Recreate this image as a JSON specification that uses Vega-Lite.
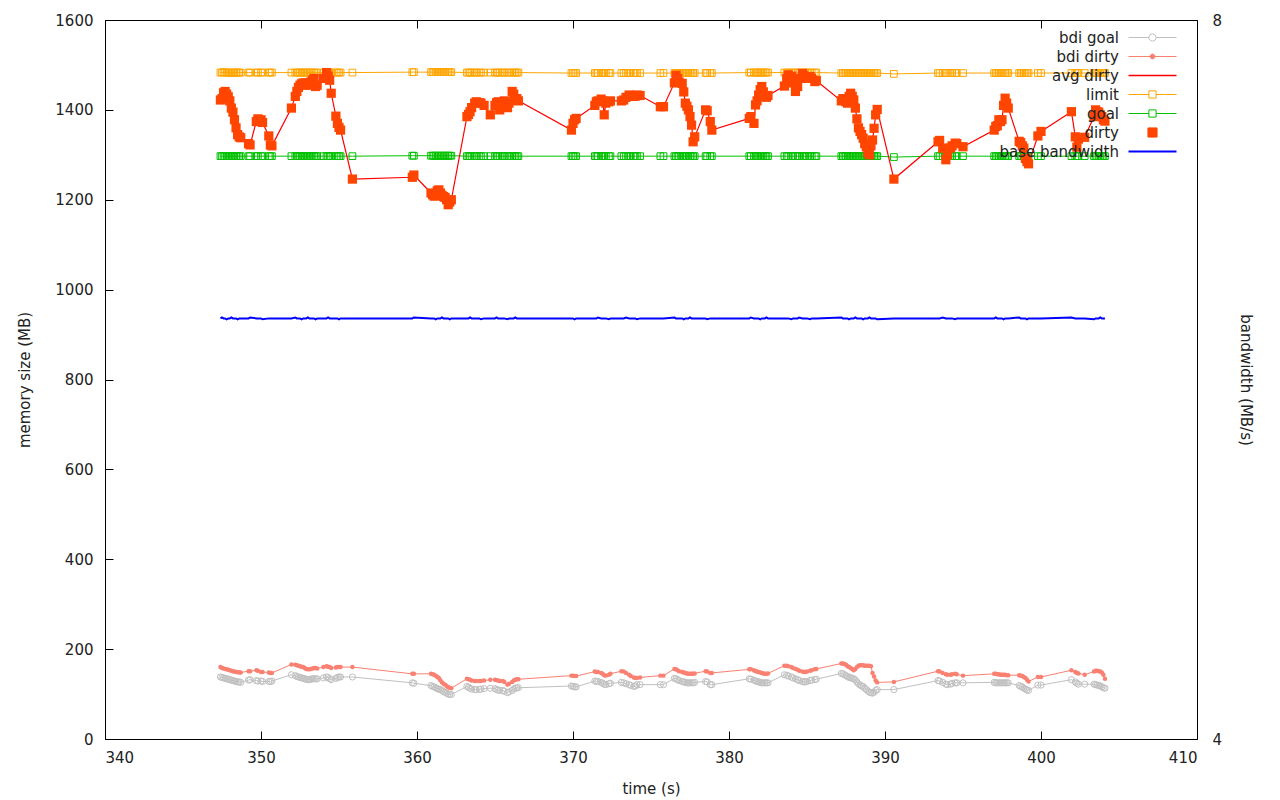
{
"$schema": "https://vega.github.io/schema/vega-lite/v6.json",
"autosize": "none",
"width": 1092,
"height": 719,
"padding": {"left": 105, "top": 20, "right": 83, "bottom": 61},
"background": "white",
"config": {
  "view": {"stroke": "black", "strokeWidth": 1},
  "font": "DejaVu Sans",
  "axis": {"labelFont": "DejaVu Sans", "labelFontSize": 15, "labelColor": "#222", "titleFont": "DejaVu Sans", "titleFontSize": 15, "titleFontWeight": "normal", "titleColor": "#222", "grid": false, "domain": false, "ticks": true, "tickColor": "#000", "tickSize": -8, "tickWidth": 1, "tickOpacity": 1, "zindex": 1, "format": "d"},
  "legend": {"orient": "none", "legendX": 1040, "legendY": 10, "title": null, "labelFont": "DejaVu Sans", "labelFontSize": 15, "labelColor": "#222", "symbolSize": 2304, "symbolType": "stroke", "symbolStrokeWidth": 1, "labelAlign": "right", "labelOffset": -41, "rowPadding": 3, "padding": 0}
},
"datasets": {"d": [
{"t":347.4,"bdi_goal":138,"bdi_dirty":160,"limit":1483,"goal":1297,"dirty":1422,"bw":6.34},
{"t":347.5,"bdi_goal":137,"bdi_dirty":158,"limit":1483,"goal":1297,"dirty":1425,"bw":6.345},
{"t":347.6,"bdi_goal":136,"bdi_dirty":157,"limit":1484,"goal":1297,"dirty":1438,"bw":6.34},
{"t":347.7,"bdi_goal":135,"bdi_dirty":156,"limit":1483,"goal":1297,"dirty":1441,"bw":6.34},
{"t":347.8,"bdi_goal":134,"bdi_dirty":155,"limit":1483,"goal":1297,"dirty":1435,"bw":6.335},
{"t":347.9,"bdi_goal":133,"bdi_dirty":154,"limit":1483,"goal":1297,"dirty":1429,"bw":6.34},
{"t":348.0,"bdi_goal":132,"bdi_dirty":153,"limit":1483,"goal":1297,"dirty":1420,"bw":6.34},
{"t":348.1,"bdi_goal":131,"bdi_dirty":152,"limit":1482,"goal":1297,"dirty":1404,"bw":6.345},
{"t":348.2,"bdi_goal":130,"bdi_dirty":151,"limit":1483,"goal":1297,"dirty":1395,"bw":6.34},
{"t":348.3,"bdi_goal":129,"bdi_dirty":150,"limit":1483,"goal":1297,"dirty":1378,"bw":6.34},
{"t":348.4,"bdi_goal":128,"bdi_dirty":149,"limit":1483,"goal":1297,"dirty":1360,"bw":6.34},
{"t":348.5,"bdi_goal":127,"bdi_dirty":149,"limit":1483,"goal":1297,"dirty":1345,"bw":6.335},
{"t":348.6,"bdi_goal":127,"bdi_dirty":148,"limit":1483,"goal":1297,"dirty":1340,"bw":6.34},
{"t":348.7,"bdi_goal":126,"bdi_dirty":148,"limit":1483,"goal":1297,"dirty":1338,"bw":6.34},
{"t":349.2,"bdi_goal":131,"bdi_dirty":151,"limit":1483,"goal":1297,"dirty":1325,"bw":6.34},
{"t":349.3,"bdi_goal":132,"bdi_dirty":151,"limit":1483,"goal":1297,"dirty":1322,"bw":6.345},
{"t":349.7,"bdi_goal":130,"bdi_dirty":153,"limit":1483,"goal":1297,"dirty":1374,"bw":6.34},
{"t":349.8,"bdi_goal":129,"bdi_dirty":152,"limit":1483,"goal":1297,"dirty":1380,"bw":6.34},
{"t":350.0,"bdi_goal":129,"bdi_dirty":149,"limit":1483,"goal":1297,"dirty":1378,"bw":6.34},
{"t":350.1,"bdi_goal":128,"bdi_dirty":149,"limit":1483,"goal":1297,"dirty":1372,"bw":6.335},
{"t":350.5,"bdi_goal":128,"bdi_dirty":148,"limit":1483,"goal":1297,"dirty":1342,"bw":6.34},
{"t":350.6,"bdi_goal":128,"bdi_dirty":147,"limit":1483,"goal":1297,"dirty":1322,"bw":6.34},
{"t":350.7,"bdi_goal":129,"bdi_dirty":147,"limit":1483,"goal":1297,"dirty":1320,"bw":6.34},
{"t":351.95,"bdi_goal":143,"bdi_dirty":166,"limit":1483,"goal":1297,"dirty":1404,"bw":6.34},
{"t":352.2,"bdi_goal":141,"bdi_dirty":165,"limit":1483,"goal":1297,"dirty":1430,"bw":6.345},
{"t":352.3,"bdi_goal":139,"bdi_dirty":164,"limit":1483,"goal":1297,"dirty":1441,"bw":6.34},
{"t":352.4,"bdi_goal":138,"bdi_dirty":163,"limit":1483,"goal":1297,"dirty":1450,"bw":6.34},
{"t":352.5,"bdi_goal":137,"bdi_dirty":162,"limit":1483,"goal":1297,"dirty":1455,"bw":6.34},
{"t":352.6,"bdi_goal":136,"bdi_dirty":161,"limit":1483,"goal":1297,"dirty":1458,"bw":6.335},
{"t":352.7,"bdi_goal":135,"bdi_dirty":160,"limit":1483,"goal":1297,"dirty":1460,"bw":6.34},
{"t":352.8,"bdi_goal":134,"bdi_dirty":158,"limit":1483,"goal":1297,"dirty":1455,"bw":6.34},
{"t":352.9,"bdi_goal":133,"bdi_dirty":156,"limit":1483,"goal":1297,"dirty":1460,"bw":6.34},
{"t":353.0,"bdi_goal":132,"bdi_dirty":155,"limit":1483,"goal":1297,"dirty":1458,"bw":6.345},
{"t":353.1,"bdi_goal":132,"bdi_dirty":155,"limit":1483,"goal":1297,"dirty":1455,"bw":6.34},
{"t":353.2,"bdi_goal":133,"bdi_dirty":156,"limit":1483,"goal":1297,"dirty":1462,"bw":6.34},
{"t":353.3,"bdi_goal":134,"bdi_dirty":157,"limit":1483,"goal":1297,"dirty":1466,"bw":6.34},
{"t":353.4,"bdi_goal":134,"bdi_dirty":158,"limit":1483,"goal":1297,"dirty":1470,"bw":6.34},
{"t":353.5,"bdi_goal":134,"bdi_dirty":158,"limit":1483,"goal":1297,"dirty":1452,"bw":6.335},
{"t":353.6,"bdi_goal":134,"bdi_dirty":157,"limit":1483,"goal":1297,"dirty":1455,"bw":6.34},
{"t":354.0,"bdi_goal":136,"bdi_dirty":160,"limit":1483,"goal":1297,"dirty":1470,"bw":6.34},
{"t":354.2,"bdi_goal":138,"bdi_dirty":162,"limit":1483,"goal":1297,"dirty":1483,"bw":6.34},
{"t":354.3,"bdi_goal":137,"bdi_dirty":161,"limit":1483,"goal":1297,"dirty":1475,"bw":6.345},
{"t":354.4,"bdi_goal":134,"bdi_dirty":160,"limit":1483,"goal":1297,"dirty":1466,"bw":6.34},
{"t":354.5,"bdi_goal":132,"bdi_dirty":158,"limit":1483,"goal":1297,"dirty":1437,"bw":6.34},
{"t":354.8,"bdi_goal":135,"bdi_dirty":159,"limit":1483,"goal":1297,"dirty":1386,"bw":6.34},
{"t":354.9,"bdi_goal":137,"bdi_dirty":160,"limit":1483,"goal":1297,"dirty":1370,"bw":6.34},
{"t":355.0,"bdi_goal":138,"bdi_dirty":160,"limit":1483,"goal":1297,"dirty":1361,"bw":6.335},
{"t":355.1,"bdi_goal":138,"bdi_dirty":160,"limit":1483,"goal":1297,"dirty":1355,"bw":6.34},
{"t":355.86,"bdi_goal":138,"bdi_dirty":160,"limit":1483,"goal":1297,"dirty":1246,"bw":6.34},
{"t":359.7,"bdi_goal":125,"bdi_dirty":145,"limit":1484,"goal":1298,"dirty":1250,"bw":6.34},
{"t":359.8,"bdi_goal":124,"bdi_dirty":145,"limit":1484,"goal":1298,"dirty":1255,"bw":6.345},
{"t":360.9,"bdi_goal":119,"bdi_dirty":145,"limit":1484,"goal":1298,"dirty":1215,"bw":6.34},
{"t":361.0,"bdi_goal":117,"bdi_dirty":144,"limit":1484,"goal":1298,"dirty":1211,"bw":6.34},
{"t":361.1,"bdi_goal":116,"bdi_dirty":143,"limit":1484,"goal":1298,"dirty":1208,"bw":6.34},
{"t":361.2,"bdi_goal":114,"bdi_dirty":141,"limit":1484,"goal":1298,"dirty":1210,"bw":6.335},
{"t":361.3,"bdi_goal":112,"bdi_dirty":138,"limit":1484,"goal":1298,"dirty":1220,"bw":6.34},
{"t":361.4,"bdi_goal":111,"bdi_dirty":136,"limit":1484,"goal":1298,"dirty":1222,"bw":6.34},
{"t":361.5,"bdi_goal":110,"bdi_dirty":131,"limit":1484,"goal":1298,"dirty":1215,"bw":6.34},
{"t":361.6,"bdi_goal":108,"bdi_dirty":126,"limit":1484,"goal":1298,"dirty":1210,"bw":6.345},
{"t":361.7,"bdi_goal":106,"bdi_dirty":123,"limit":1484,"goal":1298,"dirty":1207,"bw":6.34},
{"t":361.8,"bdi_goal":104,"bdi_dirty":121,"limit":1484,"goal":1298,"dirty":1205,"bw":6.34},
{"t":361.9,"bdi_goal":102,"bdi_dirty":118,"limit":1484,"goal":1298,"dirty":1200,"bw":6.34},
{"t":362.0,"bdi_goal":100,"bdi_dirty":115,"limit":1484,"goal":1298,"dirty":1189,"bw":6.34},
{"t":362.1,"bdi_goal":99,"bdi_dirty":114,"limit":1484,"goal":1298,"dirty":1195,"bw":6.335},
{"t":362.2,"bdi_goal":99,"bdi_dirty":113,"limit":1484,"goal":1298,"dirty":1200,"bw":6.34},
{"t":363.2,"bdi_goal":117,"bdi_dirty":134,"limit":1483,"goal":1297,"dirty":1385,"bw":6.34},
{"t":363.3,"bdi_goal":115,"bdi_dirty":133,"limit":1483,"goal":1297,"dirty":1390,"bw":6.34},
{"t":363.4,"bdi_goal":113,"bdi_dirty":132,"limit":1483,"goal":1297,"dirty":1396,"bw":6.345},
{"t":363.5,"bdi_goal":111,"bdi_dirty":130,"limit":1483,"goal":1297,"dirty":1405,"bw":6.34},
{"t":363.7,"bdi_goal":110,"bdi_dirty":129,"limit":1483,"goal":1297,"dirty":1415,"bw":6.34},
{"t":363.8,"bdi_goal":110,"bdi_dirty":129,"limit":1483,"goal":1297,"dirty":1418,"bw":6.34},
{"t":364.0,"bdi_goal":110,"bdi_dirty":129,"limit":1483,"goal":1297,"dirty":1416,"bw":6.34},
{"t":364.1,"bdi_goal":111,"bdi_dirty":129,"limit":1483,"goal":1297,"dirty":1415,"bw":6.335},
{"t":364.3,"bdi_goal":112,"bdi_dirty":130,"limit":1483,"goal":1297,"dirty":1410,"bw":6.34},
{"t":364.7,"bdi_goal":113,"bdi_dirty":132,"limit":1483,"goal":1297,"dirty":1389,"bw":6.34},
{"t":365.0,"bdi_goal":112,"bdi_dirty":132,"limit":1483,"goal":1297,"dirty":1410,"bw":6.34},
{"t":365.1,"bdi_goal":110,"bdi_dirty":131,"limit":1483,"goal":1297,"dirty":1416,"bw":6.345},
{"t":365.2,"bdi_goal":109,"bdi_dirty":130,"limit":1483,"goal":1297,"dirty":1418,"bw":6.34},
{"t":365.3,"bdi_goal":108,"bdi_dirty":129,"limit":1483,"goal":1297,"dirty":1400,"bw":6.34},
{"t":365.5,"bdi_goal":108,"bdi_dirty":129,"limit":1483,"goal":1297,"dirty":1415,"bw":6.34},
{"t":365.6,"bdi_goal":106,"bdi_dirty":127,"limit":1483,"goal":1297,"dirty":1420,"bw":6.34},
{"t":365.8,"bdi_goal":103,"bdi_dirty":121,"limit":1483,"goal":1297,"dirty":1405,"bw":6.335},
{"t":365.9,"bdi_goal":105,"bdi_dirty":123,"limit":1483,"goal":1297,"dirty":1415,"bw":6.34},
{"t":366.1,"bdi_goal":108,"bdi_dirty":127,"limit":1483,"goal":1297,"dirty":1441,"bw":6.34},
{"t":366.2,"bdi_goal":111,"bdi_dirty":130,"limit":1483,"goal":1297,"dirty":1435,"bw":6.34},
{"t":366.3,"bdi_goal":113,"bdi_dirty":132,"limit":1483,"goal":1297,"dirty":1422,"bw":6.345},
{"t":366.4,"bdi_goal":114,"bdi_dirty":133,"limit":1483,"goal":1297,"dirty":1425,"bw":6.34},
{"t":366.5,"bdi_goal":114,"bdi_dirty":133,"limit":1483,"goal":1297,"dirty":1420,"bw":6.34},
{"t":369.9,"bdi_goal":118,"bdi_dirty":141,"limit":1482,"goal":1297,"dirty":1355,"bw":6.34},
{"t":370.0,"bdi_goal":117,"bdi_dirty":141,"limit":1482,"goal":1297,"dirty":1370,"bw":6.34},
{"t":370.1,"bdi_goal":116,"bdi_dirty":140,"limit":1482,"goal":1297,"dirty":1378,"bw":6.335},
{"t":370.2,"bdi_goal":116,"bdi_dirty":140,"limit":1482,"goal":1297,"dirty":1381,"bw":6.34},
{"t":371.4,"bdi_goal":129,"bdi_dirty":150,"limit":1482,"goal":1297,"dirty":1410,"bw":6.34},
{"t":371.5,"bdi_goal":128,"bdi_dirty":149,"limit":1482,"goal":1297,"dirty":1418,"bw":6.34},
{"t":371.6,"bdi_goal":128,"bdi_dirty":149,"limit":1482,"goal":1297,"dirty":1420,"bw":6.345},
{"t":371.8,"bdi_goal":126,"bdi_dirty":147,"limit":1482,"goal":1297,"dirty":1424,"bw":6.34},
{"t":371.9,"bdi_goal":124,"bdi_dirty":145,"limit":1482,"goal":1297,"dirty":1420,"bw":6.34},
{"t":372.0,"bdi_goal":122,"bdi_dirty":142,"limit":1482,"goal":1297,"dirty":1389,"bw":6.34},
{"t":372.1,"bdi_goal":121,"bdi_dirty":141,"limit":1482,"goal":1297,"dirty":1415,"bw":6.34},
{"t":372.3,"bdi_goal":123,"bdi_dirty":143,"limit":1482,"goal":1297,"dirty":1418,"bw":6.335},
{"t":372.4,"bdi_goal":124,"bdi_dirty":145,"limit":1482,"goal":1297,"dirty":1420,"bw":6.34},
{"t":373.1,"bdi_goal":126,"bdi_dirty":151,"limit":1482,"goal":1297,"dirty":1420,"bw":6.34},
{"t":373.25,"bdi_goal":125,"bdi_dirty":150,"limit":1482,"goal":1297,"dirty":1422,"bw":6.34},
{"t":373.4,"bdi_goal":123,"bdi_dirty":147,"limit":1482,"goal":1297,"dirty":1428,"bw":6.345},
{"t":373.6,"bdi_goal":121,"bdi_dirty":143,"limit":1482,"goal":1297,"dirty":1433,"bw":6.34},
{"t":373.7,"bdi_goal":119,"bdi_dirty":140,"limit":1482,"goal":1297,"dirty":1432,"bw":6.34},
{"t":373.9,"bdi_goal":117,"bdi_dirty":137,"limit":1482,"goal":1297,"dirty":1430,"bw":6.34},
{"t":374.0,"bdi_goal":118,"bdi_dirty":136,"limit":1482,"goal":1297,"dirty":1431,"bw":6.34},
{"t":374.1,"bdi_goal":121,"bdi_dirty":136,"limit":1482,"goal":1297,"dirty":1433,"bw":6.335},
{"t":374.3,"bdi_goal":121,"bdi_dirty":137,"limit":1482,"goal":1297,"dirty":1432,"bw":6.34},
{"t":375.6,"bdi_goal":121,"bdi_dirty":141,"limit":1482,"goal":1297,"dirty":1407,"bw":6.34},
{"t":375.8,"bdi_goal":121,"bdi_dirty":141,"limit":1482,"goal":1297,"dirty":1407,"bw":6.34},
{"t":376.5,"bdi_goal":135,"bdi_dirty":156,"limit":1482,"goal":1297,"dirty":1460,"bw":6.345},
{"t":376.6,"bdi_goal":134,"bdi_dirty":155,"limit":1482,"goal":1297,"dirty":1477,"bw":6.34},
{"t":376.7,"bdi_goal":132,"bdi_dirty":153,"limit":1482,"goal":1297,"dirty":1470,"bw":6.34},
{"t":376.8,"bdi_goal":130,"bdi_dirty":151,"limit":1482,"goal":1297,"dirty":1462,"bw":6.34},
{"t":377.0,"bdi_goal":128,"bdi_dirty":149,"limit":1482,"goal":1297,"dirty":1459,"bw":6.34},
{"t":377.1,"bdi_goal":127,"bdi_dirty":148,"limit":1482,"goal":1297,"dirty":1440,"bw":6.335},
{"t":377.2,"bdi_goal":126,"bdi_dirty":147,"limit":1482,"goal":1297,"dirty":1415,"bw":6.34},
{"t":377.3,"bdi_goal":125,"bdi_dirty":146,"limit":1482,"goal":1297,"dirty":1408,"bw":6.34},
{"t":377.4,"bdi_goal":125,"bdi_dirty":145,"limit":1482,"goal":1297,"dirty":1400,"bw":6.34},
{"t":377.5,"bdi_goal":125,"bdi_dirty":145,"limit":1482,"goal":1297,"dirty":1385,"bw":6.345},
{"t":377.6,"bdi_goal":125,"bdi_dirty":145,"limit":1482,"goal":1297,"dirty":1366,"bw":6.34},
{"t":377.7,"bdi_goal":125,"bdi_dirty":145,"limit":1482,"goal":1297,"dirty":1329,"bw":6.34},
{"t":377.8,"bdi_goal":126,"bdi_dirty":146,"limit":1482,"goal":1297,"dirty":1340,"bw":6.34},
{"t":378.5,"bdi_goal":128,"bdi_dirty":151,"limit":1482,"goal":1297,"dirty":1400,"bw":6.34},
{"t":378.6,"bdi_goal":127,"bdi_dirty":150,"limit":1482,"goal":1297,"dirty":1398,"bw":6.335},
{"t":378.8,"bdi_goal":121,"bdi_dirty":147,"limit":1482,"goal":1297,"dirty":1374,"bw":6.34},
{"t":378.9,"bdi_goal":121,"bdi_dirty":147,"limit":1482,"goal":1297,"dirty":1355,"bw":6.34},
{"t":381.3,"bdi_goal":134,"bdi_dirty":155,"limit":1483,"goal":1297,"dirty":1381,"bw":6.34},
{"t":381.4,"bdi_goal":133,"bdi_dirty":155,"limit":1483,"goal":1297,"dirty":1385,"bw":6.345},
{"t":381.6,"bdi_goal":131,"bdi_dirty":153,"limit":1483,"goal":1297,"dirty":1370,"bw":6.34},
{"t":381.7,"bdi_goal":129,"bdi_dirty":151,"limit":1483,"goal":1297,"dirty":1411,"bw":6.34},
{"t":381.8,"bdi_goal":128,"bdi_dirty":150,"limit":1483,"goal":1297,"dirty":1420,"bw":6.34},
{"t":381.9,"bdi_goal":127,"bdi_dirty":149,"limit":1483,"goal":1297,"dirty":1433,"bw":6.34},
{"t":382.0,"bdi_goal":126,"bdi_dirty":148,"limit":1483,"goal":1297,"dirty":1445,"bw":6.335},
{"t":382.1,"bdi_goal":125,"bdi_dirty":147,"limit":1483,"goal":1297,"dirty":1452,"bw":6.34},
{"t":382.2,"bdi_goal":125,"bdi_dirty":146,"limit":1483,"goal":1297,"dirty":1440,"bw":6.34},
{"t":382.3,"bdi_goal":125,"bdi_dirty":145,"limit":1483,"goal":1297,"dirty":1430,"bw":6.34},
{"t":382.4,"bdi_goal":125,"bdi_dirty":145,"limit":1483,"goal":1297,"dirty":1428,"bw":6.345},
{"t":382.5,"bdi_goal":125,"bdi_dirty":146,"limit":1483,"goal":1297,"dirty":1432,"bw":6.34},
{"t":383.55,"bdi_goal":143,"bdi_dirty":163,"limit":1483,"goal":1297,"dirty":1453,"bw":6.34},
{"t":383.7,"bdi_goal":142,"bdi_dirty":163,"limit":1483,"goal":1297,"dirty":1470,"bw":6.34},
{"t":383.8,"bdi_goal":140,"bdi_dirty":162,"limit":1483,"goal":1297,"dirty":1478,"bw":6.34},
{"t":384.0,"bdi_goal":138,"bdi_dirty":160,"limit":1483,"goal":1297,"dirty":1475,"bw":6.335},
{"t":384.1,"bdi_goal":136,"bdi_dirty":158,"limit":1483,"goal":1297,"dirty":1460,"bw":6.34},
{"t":384.26,"bdi_goal":134,"bdi_dirty":156,"limit":1483,"goal":1297,"dirty":1441,"bw":6.34},
{"t":384.4,"bdi_goal":132,"bdi_dirty":154,"limit":1483,"goal":1297,"dirty":1452,"bw":6.34},
{"t":384.5,"bdi_goal":130,"bdi_dirty":152,"limit":1483,"goal":1297,"dirty":1470,"bw":6.345},
{"t":384.7,"bdi_goal":128,"bdi_dirty":150,"limit":1483,"goal":1297,"dirty":1481,"bw":6.34},
{"t":384.8,"bdi_goal":127,"bdi_dirty":149,"limit":1483,"goal":1297,"dirty":1476,"bw":6.34},
{"t":384.9,"bdi_goal":127,"bdi_dirty":149,"limit":1483,"goal":1297,"dirty":1470,"bw":6.34},
{"t":385.0,"bdi_goal":128,"bdi_dirty":150,"limit":1483,"goal":1297,"dirty":1472,"bw":6.34},
{"t":385.2,"bdi_goal":130,"bdi_dirty":152,"limit":1483,"goal":1297,"dirty":1474,"bw":6.335},
{"t":385.3,"bdi_goal":131,"bdi_dirty":153,"limit":1483,"goal":1297,"dirty":1470,"bw":6.34},
{"t":385.5,"bdi_goal":132,"bdi_dirty":155,"limit":1483,"goal":1297,"dirty":1463,"bw":6.34},
{"t":385.6,"bdi_goal":133,"bdi_dirty":156,"limit":1483,"goal":1297,"dirty":1465,"bw":6.34},
{"t":387.2,"bdi_goal":146,"bdi_dirty":168,"limit":1482,"goal":1297,"dirty":1420,"bw":6.345},
{"t":387.3,"bdi_goal":145,"bdi_dirty":168,"limit":1482,"goal":1297,"dirty":1425,"bw":6.34},
{"t":387.4,"bdi_goal":143,"bdi_dirty":167,"limit":1482,"goal":1297,"dirty":1422,"bw":6.34},
{"t":387.5,"bdi_goal":141,"bdi_dirty":165,"limit":1482,"goal":1297,"dirty":1418,"bw":6.34},
{"t":387.6,"bdi_goal":139,"bdi_dirty":162,"limit":1482,"goal":1297,"dirty":1415,"bw":6.34},
{"t":387.7,"bdi_goal":137,"bdi_dirty":160,"limit":1482,"goal":1297,"dirty":1430,"bw":6.335},
{"t":387.8,"bdi_goal":136,"bdi_dirty":158,"limit":1482,"goal":1297,"dirty":1437,"bw":6.34},
{"t":387.9,"bdi_goal":135,"bdi_dirty":155,"limit":1482,"goal":1297,"dirty":1430,"bw":6.34},
{"t":388.0,"bdi_goal":134,"bdi_dirty":153,"limit":1482,"goal":1297,"dirty":1422,"bw":6.34},
{"t":388.1,"bdi_goal":131,"bdi_dirty":156,"limit":1482,"goal":1297,"dirty":1404,"bw":6.345},
{"t":388.2,"bdi_goal":127,"bdi_dirty":160,"limit":1482,"goal":1297,"dirty":1380,"bw":6.34},
{"t":388.3,"bdi_goal":123,"bdi_dirty":163,"limit":1482,"goal":1297,"dirty":1360,"bw":6.34},
{"t":388.4,"bdi_goal":120,"bdi_dirty":164,"limit":1482,"goal":1297,"dirty":1352,"bw":6.34},
{"t":388.5,"bdi_goal":118,"bdi_dirty":164,"limit":1482,"goal":1297,"dirty":1345,"bw":6.34},
{"t":388.6,"bdi_goal":117,"bdi_dirty":164,"limit":1482,"goal":1297,"dirty":1337,"bw":6.335},
{"t":388.7,"bdi_goal":113,"bdi_dirty":163,"limit":1482,"goal":1297,"dirty":1325,"bw":6.34},
{"t":388.8,"bdi_goal":110,"bdi_dirty":163,"limit":1482,"goal":1297,"dirty":1318,"bw":6.34},
{"t":388.9,"bdi_goal":107,"bdi_dirty":163,"limit":1482,"goal":1297,"dirty":1305,"bw":6.34},
{"t":389.0,"bdi_goal":104,"bdi_dirty":163,"limit":1482,"goal":1297,"dirty":1300,"bw":6.345},
{"t":389.1,"bdi_goal":103,"bdi_dirty":162,"limit":1482,"goal":1297,"dirty":1320,"bw":6.34},
{"t":389.2,"bdi_goal":102,"bdi_dirty":147,"limit":1482,"goal":1297,"dirty":1333,"bw":6.34},
{"t":389.3,"bdi_goal":104,"bdi_dirty":139,"limit":1482,"goal":1297,"dirty":1359,"bw":6.34},
{"t":389.4,"bdi_goal":108,"bdi_dirty":130,"limit":1482,"goal":1297,"dirty":1389,"bw":6.34},
{"t":389.5,"bdi_goal":110,"bdi_dirty":126,"limit":1482,"goal":1297,"dirty":1401,"bw":6.335},
{"t":390.57,"bdi_goal":110,"bdi_dirty":127,"limit":1480,"goal":1295,"dirty":1246,"bw":6.34},
{"t":393.4,"bdi_goal":130,"bdi_dirty":151,"limit":1482,"goal":1297,"dirty":1329,"bw":6.34},
{"t":393.5,"bdi_goal":129,"bdi_dirty":150,"limit":1482,"goal":1297,"dirty":1332,"bw":6.34},
{"t":393.7,"bdi_goal":126,"bdi_dirty":147,"limit":1482,"goal":1297,"dirty":1315,"bw":6.345},
{"t":393.9,"bdi_goal":122,"bdi_dirty":144,"limit":1482,"goal":1297,"dirty":1289,"bw":6.34},
{"t":394.0,"bdi_goal":121,"bdi_dirty":143,"limit":1482,"goal":1297,"dirty":1300,"bw":6.34},
{"t":394.2,"bdi_goal":122,"bdi_dirty":143,"limit":1482,"goal":1297,"dirty":1315,"bw":6.34},
{"t":394.3,"bdi_goal":124,"bdi_dirty":144,"limit":1482,"goal":1297,"dirty":1320,"bw":6.34},
{"t":394.5,"bdi_goal":125,"bdi_dirty":145,"limit":1482,"goal":1297,"dirty":1326,"bw":6.335},
{"t":394.6,"bdi_goal":125,"bdi_dirty":144,"limit":1482,"goal":1297,"dirty":1325,"bw":6.34},
{"t":395.0,"bdi_goal":125,"bdi_dirty":141,"limit":1482,"goal":1297,"dirty":1318,"bw":6.34},
{"t":397.0,"bdi_goal":126,"bdi_dirty":145,"limit":1482,"goal":1297,"dirty":1355,"bw":6.34},
{"t":397.1,"bdi_goal":125,"bdi_dirty":145,"limit":1482,"goal":1297,"dirty":1363,"bw":6.345},
{"t":397.2,"bdi_goal":125,"bdi_dirty":144,"limit":1482,"goal":1297,"dirty":1365,"bw":6.34},
{"t":397.3,"bdi_goal":125,"bdi_dirty":144,"limit":1482,"goal":1297,"dirty":1378,"bw":6.34},
{"t":397.4,"bdi_goal":125,"bdi_dirty":143,"limit":1482,"goal":1297,"dirty":1374,"bw":6.34},
{"t":397.5,"bdi_goal":125,"bdi_dirty":143,"limit":1482,"goal":1297,"dirty":1378,"bw":6.34},
{"t":397.6,"bdi_goal":125,"bdi_dirty":143,"limit":1482,"goal":1297,"dirty":1410,"bw":6.335},
{"t":397.7,"bdi_goal":125,"bdi_dirty":143,"limit":1482,"goal":1297,"dirty":1426,"bw":6.34},
{"t":397.8,"bdi_goal":125,"bdi_dirty":142,"limit":1482,"goal":1297,"dirty":1415,"bw":6.34},
{"t":397.9,"bdi_goal":125,"bdi_dirty":142,"limit":1482,"goal":1297,"dirty":1404,"bw":6.34},
{"t":398.6,"bdi_goal":119,"bdi_dirty":142,"limit":1482,"goal":1297,"dirty":1330,"bw":6.345},
{"t":398.7,"bdi_goal":117,"bdi_dirty":141,"limit":1482,"goal":1297,"dirty":1327,"bw":6.34},
{"t":398.8,"bdi_goal":116,"bdi_dirty":140,"limit":1482,"goal":1297,"dirty":1320,"bw":6.34},
{"t":398.9,"bdi_goal":113,"bdi_dirty":138,"limit":1482,"goal":1297,"dirty":1315,"bw":6.34},
{"t":399.0,"bdi_goal":111,"bdi_dirty":136,"limit":1482,"goal":1297,"dirty":1292,"bw":6.34},
{"t":399.1,"bdi_goal":109,"bdi_dirty":132,"limit":1482,"goal":1297,"dirty":1285,"bw":6.335},
{"t":399.2,"bdi_goal":108,"bdi_dirty":128,"limit":1482,"goal":1297,"dirty":1280,"bw":6.34},
{"t":399.8,"bdi_goal":120,"bdi_dirty":138,"limit":1482,"goal":1297,"dirty":1342,"bw":6.34},
{"t":400.0,"bdi_goal":120,"bdi_dirty":138,"limit":1482,"goal":1297,"dirty":1352,"bw":6.34},
{"t":401.95,"bdi_goal":132,"bdi_dirty":153,"limit":1482,"goal":1297,"dirty":1396,"bw":6.345},
{"t":402.2,"bdi_goal":127,"bdi_dirty":149,"limit":1482,"goal":1297,"dirty":1340,"bw":6.34},
{"t":402.3,"bdi_goal":124,"bdi_dirty":147,"limit":1482,"goal":1297,"dirty":1317,"bw":6.34},
{"t":402.4,"bdi_goal":122,"bdi_dirty":146,"limit":1482,"goal":1297,"dirty":1335,"bw":6.34},
{"t":402.8,"bdi_goal":122,"bdi_dirty":143,"limit":1482,"goal":1297,"dirty":1339,"bw":6.34},
{"t":403.4,"bdi_goal":122,"bdi_dirty":150,"limit":1482,"goal":1297,"dirty":1385,"bw":6.335},
{"t":403.5,"bdi_goal":121,"bdi_dirty":152,"limit":1482,"goal":1297,"dirty":1400,"bw":6.34},
{"t":403.6,"bdi_goal":120,"bdi_dirty":152,"limit":1482,"goal":1297,"dirty":1396,"bw":6.34},
{"t":403.7,"bdi_goal":119,"bdi_dirty":151,"limit":1482,"goal":1297,"dirty":1395,"bw":6.34},
{"t":403.8,"bdi_goal":118,"bdi_dirty":150,"limit":1482,"goal":1297,"dirty":1389,"bw":6.345},
{"t":403.9,"bdi_goal":116,"bdi_dirty":148,"limit":1482,"goal":1297,"dirty":1385,"bw":6.34},
{"t":404.0,"bdi_goal":114,"bdi_dirty":143,"limit":1482,"goal":1297,"dirty":1378,"bw":6.34},
{"t":404.1,"bdi_goal":113,"bdi_dirty":134,"limit":1482,"goal":1297,"dirty":1375,"bw":6.34}
]},
"data": {"name": "d"},
"layer": [
  {
    "layer": [
      {"mark": {"type": "line", "strokeWidth": 1},
       "encoding": {
         "x": {"field": "t", "type": "quantitative", "title": "time (s)", "scale": {"domain": [340, 410], "nice": false, "zero": false}, "axis": {"orient": "bottom", "values": [340,350,360,370,380,390,400,410], "ticks": true, "tickSize": -8, "labelPadding": 19, "titlePadding": 16}},
         "y": {"field": "bdi_goal", "type": "quantitative", "title": "memory size (MB)", "scale": {"domain": [0, 1600], "nice": false, "zero": false}, "axis": {"values": [0,200,400,600,800,1000,1200,1400,1600], "ticks": true, "tickSize": -8, "labelPadding": 20, "titlePadding": 22}},
         "color": {"datum": "bdi goal", "type": "nominal",
           "scale": {"domain": ["bdi goal","bdi dirty","avg dirty","limit","goal","dirty","base bandwidth"], "range": ["#c0c0c0","#fa8072","#ff0000","#ffa500","#00c000","#ff4500","#0000ff"]},
           "legend": {"encode": {"symbols": {"update": {
             "shape": {"signal": "datum.value==='bdi goal' ? 'M-1,0H-0.15M0.15,0H1M0.15,0A0.15,0.15,0,1,1,-0.15,0A0.15,0.15,0,1,1,0.15,0' : datum.value==='bdi dirty' ? 'M-1,0H1M0.1,0A0.1,0.1,0,1,1,-0.1,0A0.1,0.1,0,1,1,0.1,0' : (datum.value==='limit' || datum.value==='goal') ? 'M-1,0H-0.15M0.15,0H1M-0.15,-0.15H0.15V0.15H-0.15Z' : datum.value==='dirty' ? 'M-0.19,-0.19H0.19V0.19H-0.19Z' : datum.value==='avg dirty' ? 'M-1,0H1Z' : 'M-1,0H1'"},
             "fill": {"signal": "datum.value==='dirty' ? '#ff4500' : datum.value==='bdi dirty' ? '#fa8072' : 'transparent'"},
             "fillOpacity": {"signal": "(datum.value==='dirty' || datum.value==='bdi dirty') ? 1 : 0"},
             "stroke": {"scale": "color", "field": "value"},
             "strokeOpacity": {"value": 1},
             "strokeDash": {"value": []},
             "strokeWidth": {"signal": "datum.value==='base bandwidth' ? 2 : datum.value==='avg dirty' ? 1.3 : 1"},
             "opacity": {"value": 1}
           }}}}}
       }},
      {"mark": {"type": "point", "shape": "circle", "filled": false, "size": 38, "strokeWidth": 1, "opacity": 1},
       "encoding": {"x": {"field": "t", "type": "quantitative"}, "y": {"field": "bdi_goal", "type": "quantitative", "title": "memory size (MB)"}, "color": {"datum": "bdi goal", "type": "nominal"}}},
      {"mark": {"type": "line", "strokeWidth": 1},
       "encoding": {"x": {"field": "t", "type": "quantitative"}, "y": {"field": "bdi_dirty", "type": "quantitative", "title": "memory size (MB)"}, "color": {"datum": "bdi dirty", "type": "nominal"}}},
      {"mark": {"type": "circle", "size": 20, "opacity": 1},
       "encoding": {"x": {"field": "t", "type": "quantitative"}, "y": {"field": "bdi_dirty", "type": "quantitative", "title": "memory size (MB)"}, "color": {"datum": "bdi dirty", "type": "nominal"}}},
      {"mark": {"type": "line", "strokeWidth": 1},
       "encoding": {"x": {"field": "t", "type": "quantitative"}, "y": {"field": "limit", "type": "quantitative", "title": "memory size (MB)"}, "color": {"datum": "limit", "type": "nominal"}}},
      {"mark": {"type": "point", "shape": "square", "filled": false, "size": 45, "strokeWidth": 1, "opacity": 1},
       "encoding": {"x": {"field": "t", "type": "quantitative"}, "y": {"field": "limit", "type": "quantitative", "title": "memory size (MB)"}, "color": {"datum": "limit", "type": "nominal"}}},
      {"mark": {"type": "line", "strokeWidth": 1},
       "encoding": {"x": {"field": "t", "type": "quantitative"}, "y": {"field": "goal", "type": "quantitative", "title": "memory size (MB)"}, "color": {"datum": "goal", "type": "nominal"}}},
      {"mark": {"type": "point", "shape": "square", "filled": false, "size": 45, "strokeWidth": 1, "opacity": 1},
       "encoding": {"x": {"field": "t", "type": "quantitative"}, "y": {"field": "goal", "type": "quantitative", "title": "memory size (MB)"}, "color": {"datum": "goal", "type": "nominal"}}},
      {"mark": {"type": "line", "strokeWidth": 1.2},
       "encoding": {"x": {"field": "t", "type": "quantitative"}, "y": {"field": "dirty", "type": "quantitative", "title": "memory size (MB)"}, "color": {"datum": "avg dirty", "type": "nominal"}}},
      {"mark": {"type": "square", "size": 85, "opacity": 1},
       "encoding": {"x": {"field": "t", "type": "quantitative"}, "y": {"field": "dirty", "type": "quantitative", "title": "memory size (MB)"}, "color": {"datum": "dirty", "type": "nominal"}}}
    ]
  },
  {"mark": {"type": "line", "strokeWidth": 2},
   "encoding": {
     "x": {"field": "t", "type": "quantitative", "scale": {"domain": [340, 410], "nice": false, "zero": false}, "axis": {"orient": "top", "values": [340,350,360,370,380,390,400,410], "labels": false, "ticks": true, "tickSize": -8, "title": null}},
     "y": {"field": "bw", "type": "quantitative", "title": "bandwidth (MB/s)", "scale": {"domain": [4, 8], "nice": false, "zero": false}, "axis": {"orient": "right", "values": [4, 8], "ticks": true, "tickSize": -8, "labelPadding": 23, "titlePadding": 16}},
     "color": {"datum": "base bandwidth", "type": "nominal"}
   }}
],
"resolve": {"scale": {"y": "independent"}, "axis": {"x": "independent"}}
}
